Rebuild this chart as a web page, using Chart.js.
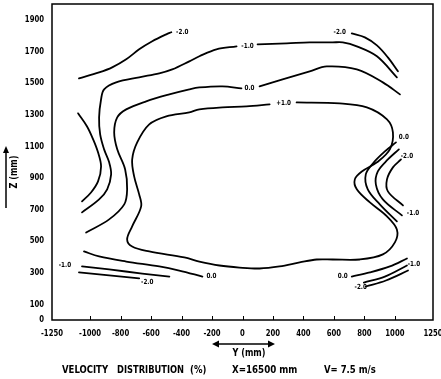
<!DOCTYPE html>
<html>
<head>
<meta charset="utf-8">
<script src="https://cdn.jsdelivr.net/npm/chart.js@4/dist/chart.umd.min.js"></script>
<style>
  html, body { margin: 0; padding: 0; background: #fff; }
  canvas { display: block; }
</style>
</head>
<body>
<canvas id="chart" width="441" height="379"></canvas>
<script>
// axis ticks
const xTicks = [-1250, -1000, -800, -600, -400, -200, 0, 200, 400, 600, 800, 1000, 1250]
const yTicks = [0, 100, 300, 500, 700, 900, 1100, 1300, 1500, 1700, 1900]

// contour lines, points as [Y mm, Z mm]
const minus2TopLeft = [[-1073, 1529], [-941, 1567], [-855, 1599], [-763, 1650], [-678, 1713], [-592, 1764], [-500, 1808], [-467, 1821]]
const minus2TopRight = [[717, 1814], [803, 1789], [882, 1738], [954, 1662], [1020, 1574]]
const minus1TopLeft = [[-1053, 681], [-941, 763], [-888, 827], [-862, 922], [-875, 998], [-908, 1080], [-934, 1175], [-941, 1282],
  [-928, 1397], [-908, 1460], [-829, 1504], [-678, 1536], [-546, 1561], [-461, 1586], [-349, 1637], [-283, 1669], [-171, 1713], [-39, 1732]]
const minus1TopRight = [[99, 1745], [290, 1751], [441, 1757], [592, 1757], [658, 1757], [750, 1732], [882, 1669], [1013, 1536]]
const zeroTopLeft = [[-1026, 554], [-875, 637], [-776, 732], [-757, 827], [-770, 953], [-822, 1080], [-842, 1187], [-822, 1282],
  [-763, 1333], [-632, 1384], [-480, 1428], [-349, 1460], [-283, 1472], [-132, 1479], [-7, 1466]]
const zeroTopRight = [[112, 1479], [263, 1523], [441, 1574], [553, 1605], [750, 1586], [921, 1504], [1033, 1428]]
const plus1Loop = [[355, 1377], [638, 1371], [816, 1346], [948, 1270], [987, 1187], [967, 1080], [882, 998], [783, 940], [737, 890],
  [750, 827], [836, 744], [948, 656], [1013, 573], [1000, 491], [921, 415], [770, 383], [592, 383], [487, 383], [375, 364],
  [243, 339], [112, 326], [-20, 332], [-151, 345], [-283, 370], [-382, 396], [-612, 434], [-724, 465], [-757, 510], [-724, 592],
  [-665, 719], [-678, 795], [-711, 909], [-724, 1016], [-691, 1124], [-612, 1238], [-500, 1289], [-349, 1314], [-283, 1333],
  [-132, 1346], [26, 1352], [178, 1365]]
const minus2Left = [[-1079, 1308], [-1020, 1225], [-980, 1143], [-948, 1061], [-928, 972], [-948, 877], [-994, 807], [-1053, 751]]
const zeroRight = [[1007, 1124], [934, 1067], [862, 998], [809, 922], [822, 827], [901, 732], [1013, 624]]
const minus1Right = [[1026, 1080], [954, 1016], [888, 940], [875, 858], [921, 763], [1046, 662]]
const minus2Right = [[1040, 1016], [987, 966], [948, 890], [954, 814], [1053, 725]]
const zeroBottomLeft = [[-1040, 434], [-941, 402], [-763, 370], [-546, 339], [-415, 313], [-263, 275]]
const minus1BottomLeft = [[-1053, 339], [-875, 320], [-658, 294], [-480, 275]]
const minus2BottomLeft = [[-1073, 301], [-875, 282], [-678, 263]]
const zeroBottomRight = [[717, 275], [836, 301], [967, 339], [1079, 389]]
const minus1BottomRight = [[796, 237], [934, 275], [1079, 345]]
const minus2BottomRight = [[809, 212], [941, 250], [1086, 313]]

const contours = [minus2TopLeft, minus2TopRight, minus1TopLeft, minus1TopRight, zeroTopLeft, zeroTopRight, plus1Loop,
  minus2Left, zeroRight, minus1Right, minus2Right, zeroBottomLeft, minus1BottomLeft, minus2BottomLeft,
  zeroBottomRight, minus1BottomRight, minus2BottomRight]

// contour values and where they are written
const labelText = ['-2.0', '-1.0', '0.0', '+1.0', '-2.0', '0.0', '-2.0', '-1.0', '0.0', '-1.0', '-2.0', '0.0', '-1.0', '-2.0']
const labelAt = [[-395, 1821], [33, 1732], [46, 1466], [270, 1371], [638, 1821], [1059, 1156], [1079, 1035], [1119, 675],
  [-204, 275], [-1165, 345], [-625, 237], [658, 275], [1125, 351], [776, 206]]

const FONT = "'DejaVu Sans Condensed', 'DejaVu Sans', sans-serif"

// squeezed text, the lettering on the original is narrow
function narrowText(ctx, text, x, y, sx) {
  ctx.save()
  ctx.translate(x, y)
  ctx.scale(sx, 1)
  ctx.fillText(text, 0, 0)
  ctx.restore()
}

const decor = {
  id: 'decor',
  afterDraw(chart) {
    const {ctx, chartArea: a, scales: {x, y}} = chart
    ctx.save()
    ctx.strokeStyle = '#000'
    ctx.fillStyle = '#000'
    ctx.lineWidth = 1.5
    ctx.strokeRect(a.left, a.top, a.right - a.left, a.bottom - a.top)

    // small ticks pointing into the plot
    ctx.lineWidth = 1
    xTicks.slice(1, -1).forEach((v) => {
      const px = Math.round(x.getPixelForValue(v)) + 0.5
      ctx.beginPath()
      ctx.moveTo(px, a.bottom)
      ctx.lineTo(px, a.bottom - 4)
      ctx.stroke()
    })

    // tick labels
    ctx.font = 'bold 9px ' + FONT
    ctx.textBaseline = 'middle'
    ctx.textAlign = 'center'
    xTicks.forEach((v) => narrowText(ctx, String(v), x.getPixelForValue(v), a.bottom + 14, 0.85))
    ctx.textAlign = 'right'
    yTicks.forEach((v) => narrowText(ctx, String(v), a.left - 8, y.getPixelForValue(v), 0.85))

    // contour values
    ctx.font = 'bold 7px ' + FONT
    ctx.textAlign = 'center'
    labelText.forEach((t, i) => {
      narrowText(ctx, t, x.getPixelForValue(labelAt[i][0]), y.getPixelForValue(labelAt[i][1]), 0.9)
    })

    // Y (mm) with double arrow
    const ay = 344
    ctx.lineWidth = 1.5
    ctx.beginPath()
    ctx.moveTo(216, ay); ctx.lineTo(271, ay)
    ctx.stroke()
    ctx.beginPath()
    ctx.moveTo(212, ay); ctx.lineTo(219, ay - 3.5); ctx.lineTo(219, ay + 3.5); ctx.closePath()
    ctx.moveTo(275, ay); ctx.lineTo(268, ay - 3.5); ctx.lineTo(268, ay + 3.5); ctx.closePath()
    ctx.fill()
    ctx.font = 'bold 10px ' + FONT
    narrowText(ctx, 'Y (mm)', 249, 353, 0.9)

    // Z (mm) with arrow up
    ctx.beginPath()
    ctx.moveTo(6, 208); ctx.lineTo(6, 151)
    ctx.stroke()
    ctx.beginPath()
    ctx.moveTo(6, 146); ctx.lineTo(3, 153); ctx.lineTo(9, 153); ctx.closePath()
    ctx.fill()
    ctx.save()
    ctx.translate(14, 172)
    ctx.rotate(-Math.PI / 2)
    narrowText(ctx, 'Z (mm)', 0, 0, 0.9)
    ctx.restore()

    // caption
    ctx.font = 'bold 10.5px ' + FONT
    ctx.textAlign = 'left'
    narrowText(ctx, 'VELOCITY', 62, 370, 0.9)
    narrowText(ctx, 'DISTRIBUTION', 117, 370, 0.88)
    narrowText(ctx, '(%)', 190, 370, 0.9)
    narrowText(ctx, 'X=16500 mm', 232, 370, 0.92)
    narrowText(ctx, 'V= 7.5 m/s', 324, 370, 0.9)
    ctx.restore()
  }
}

new Chart(document.getElementById('chart'), {
  type: 'scatter',
  data: {
    datasets: contours.map((pts) => ({
      data: pts.map(([yv, zv]) => ({x: yv, y: zv})),
      showLine: true,
      tension: 0.35,
      borderColor: '#000',
      borderWidth: 1.8,
      borderCapStyle: 'round',
      pointRadius: 0,
      fill: false
    }))
  },
  options: {
    responsive: false,
    animation: false,
    layout: {padding: {top: 4, right: 8, left: 0, bottom: 0}},
    plugins: {legend: {display: false}, tooltip: {enabled: false}},
    scales: {
      x: {
        type: 'linear',
        min: -1250,
        max: 1250,
        afterFit: (axis) => { axis.height = 59 },
        grid: {display: false, drawTicks: false},
        border: {display: false},
        ticks: {display: false}
      },
      y: {
        type: 'linear',
        min: 0,
        max: 2000,
        afterFit: (axis) => { axis.width = 52 },
        grid: {display: false, drawTicks: false},
        border: {display: false},
        ticks: {display: false}
      }
    }
  },
  plugins: [decor]
})
</script>
</body>
</html>
